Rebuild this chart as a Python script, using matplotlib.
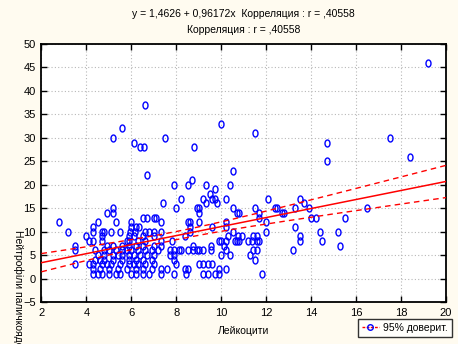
import numpy as np
import matplotlib
matplotlib.use('Agg')
import matplotlib.pyplot as plt
from matplotlib.path import Path
from matplotlib.lines import Line2D

plt.rcParams['font.family'] = ['Liberation Sans', 'DejaVu Sans']

# коефіцієнти з заголовку
b0 = 1.4626
b1 = 0.96172
title1 = "y = 1,4626 + 0,96172x  Корреляция : r = ,40558"
title2 = "Корреляция : r = ,40558"

# окремі точки (лейкоцити, нейтрофіли)
hi_x = [19.2, 6.6, 10.0, 5.6, 11.5, 5.2, 7.5, 17.5, 6.1, 14.7, 6.4, 6.55, 8.8,
        18.4, 14.7, 10.5, 6.7, 8.7, 7.9, 8.5, 9.3, 10.4, 9.7, 9.5, 8.2, 9.2,
        9.6, 9.7, 10.2, 12.1, 13.5, 7.4, 9.3, 9.8, 13.7]
hi_y = [46, 37, 33, 32, 31, 30, 30, 30, 29, 29, 28, 28, 28,
        26, 25, 23, 22, 21, 20, 20, 20, 20, 19, 18, 17, 17,
        17, 17, 17, 17, 17, 16, 16, 16, 16]

# щільна частина: значення нейтрофілів -> лейкоцити
rows = {
    15: [5.2, 8.0, 8.9, 9.0, 10.5, 11.5, 12.4, 12.5, 13.3, 13.9, 16.5],
    14: [4.9, 5.2, 9.0, 10.7, 10.8, 11.7, 12.7, 12.8],
    13: [6.5, 6.7, 7.0, 7.1, 11.7, 14.0, 14.2, 15.5],
    12: [2.8, 4.5, 5.3, 6.0, 7.3, 8.5, 8.6, 9.0, 10.2, 12.0],
    11: [4.3, 6.0, 6.2, 6.35, 8.6, 9.6, 10.2, 13.3],
    10: [3.2, 4.3, 4.7, 4.8, 5.1, 5.5, 5.95, 6.15, 6.6, 6.8, 7.0, 7.3, 8.6,
         10.5, 12.0, 14.4, 15.2],
    9: [4.0, 4.7, 5.9, 6.1, 6.5, 7.0, 8.4, 10.3, 10.75, 10.9, 11.4, 11.6, 13.5],
    8: [4.1, 4.3, 4.7, 5.8, 5.9, 6.3, 6.6, 7.3, 7.8, 9.9, 10.0, 10.2, 10.6,
        10.7, 10.8, 11.2, 11.35, 11.6, 11.7, 13.5, 14.5],
    7: [3.5, 4.9, 5.2, 5.6, 5.9, 6.2, 6.5, 7.0, 7.3, 8.75, 9.56, 10.1, 15.3],
    6: [3.5, 4.4, 4.8, 5.0, 5.3, 5.6, 5.8, 6.0, 6.3, 6.6, 6.9, 7.2, 7.7, 7.9,
        8.1, 8.2, 8.5, 8.75, 8.9, 9.0, 9.2, 9.56, 10.2, 11.4, 11.6, 13.2],
    5: [4.5, 4.8, 5.2, 5.4, 5.6, 5.9, 6.1, 6.4, 6.7, 7.0, 7.7, 7.9, 10.0,
        10.4, 11.3],
    4: [4.4, 4.6, 4.8, 5.2, 5.6, 5.9, 6.2, 6.5, 6.9, 7.9, 11.5],
    3: [3.5, 4.1, 4.3, 4.7, 4.9, 5.1, 5.5, 5.9, 6.1, 6.3, 6.6, 7.0, 8.0, 9.0,
        9.2, 9.4, 9.6],
    2: [4.3, 4.6, 5.0, 5.4, 5.8, 6.2, 6.5, 6.9, 7.3, 7.6, 8.4, 8.5, 9.9, 10.2],
    1: [4.3, 4.5, 4.7, 5.0, 5.3, 5.5, 6.0, 6.2, 6.5, 6.8, 7.3, 7.9, 8.45, 9.2,
        9.4, 9.7, 9.9, 11.8],
}

x = list(hi_x)
y = list(hi_y)
for yv, xs in rows.items():
    x += xs
    y += [yv] * len(xs)
x = np.array(x, dtype=float)
y = np.array(y, dtype=float)

# лінія регресії і 95% довірчий інтервал
xg = np.linspace(2, 20, 200)
yg = b0 + b1 * xg
n = len(x)
res = y - (b0 + b1 * x)
s = np.sqrt(np.sum(res ** 2) / (n - 2))
xm = x.mean()
sxx = np.sum((x - xm) ** 2)
se = s * np.sqrt(1.0 / n + (xg - xm) ** 2 / sxx)
t = 1.97

bg = '#FFFBF0'
fig = plt.figure(figsize=(4.58, 3.44), dpi=100, facecolor=bg)
ax = fig.add_axes([0.0906, 0.1221, 0.8832, 0.75])
ax.set_facecolor('white')

th = np.linspace(0, 2 * np.pi, 40)
ell = Path(np.column_stack([0.72 * np.cos(th), np.sin(th)]))

ax.plot(x, y, linestyle='none', marker=ell, markersize=5, mfc='none',
        mec='#0000FF', mew=1.0, zorder=3)
ax.plot(xg, yg, color='red', lw=1.1, zorder=4)
ax.plot(xg, yg + t * se, color='red', lw=1.0, dashes=(4, 3), zorder=4)
ax.plot(xg, yg - t * se, color='red', lw=1.0, dashes=(4, 3), zorder=4)

ax.set_xlim(2, 20)
ax.set_ylim(-5, 50)
ax.set_xticks(np.arange(2, 21, 2))
ax.set_yticks(np.arange(-5, 51, 5))
ax.grid(True, color='#B8B8B8', linestyle=(0, (1, 2)), lw=0.8)
ax.tick_params(direction='in', length=4, width=1, top=True, right=True,
               labelsize=8, pad=4, colors='black')
for sp in ax.spines.values():
    sp.set_linewidth(1.3)

fig.text(0.532, 0.958, title1, ha='center', va='center', fontsize=7.5)
fig.text(0.532, 0.912, title2, ha='center', va='center', fontsize=7.5)
fig.text(0.532, 0.038, "Лейкоцити", ha='center', va='center', fontsize=7.5)
fig.text(0.039, 0.33, "Нейтрофіли паличкоядерні", rotation=270,
         ha='left', va='center', rotation_mode='anchor', fontsize=7.5)

h = (Line2D([], [], color='red', lw=1.0, dashes=(2, 1)),
     Line2D([], [], linestyle='none', marker='o', markersize=4, mfc='none',
            mec='#0000FF'))
leg = fig.legend([h], ["95% доверит."], loc='lower right',
                 bbox_to_anchor=(0.998, 0.005), fontsize=7.5, frameon=True,
                 fancybox=False, handlelength=1.6, borderpad=0.4,
                 handletextpad=0.4)
leg.get_frame().set_edgecolor('black')
leg.get_frame().set_linewidth(1.0)
leg.get_frame().set_facecolor('white')

fig.savefig('out.png', dpi=100, facecolor=bg)
